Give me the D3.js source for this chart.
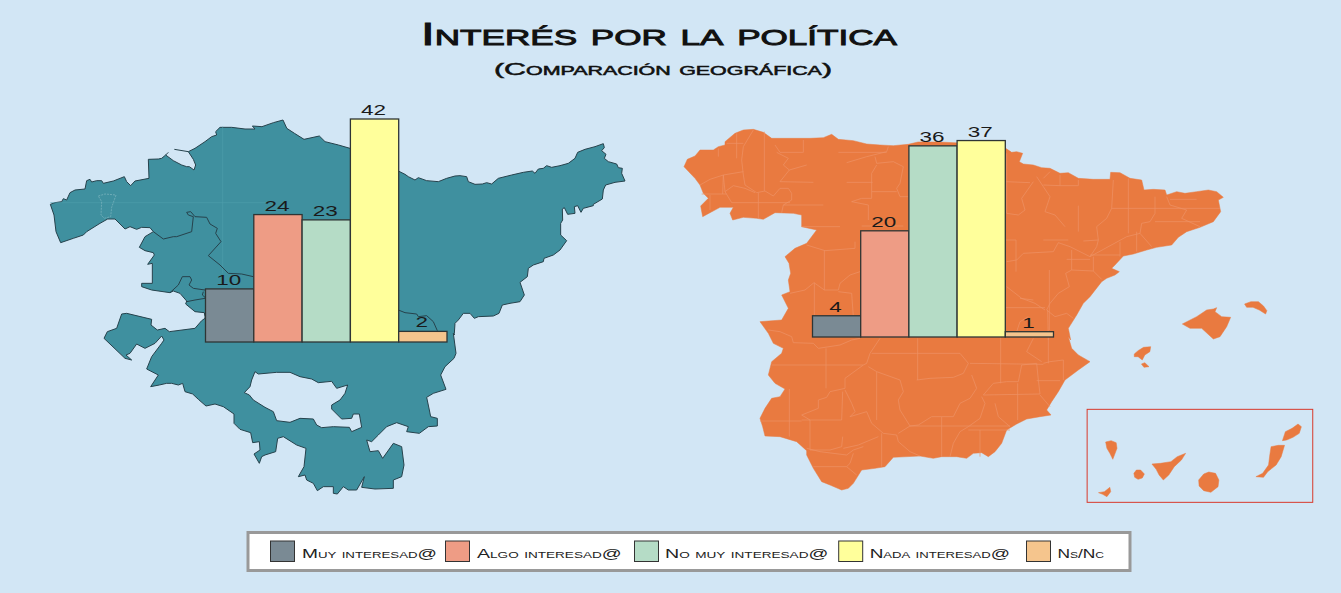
<!DOCTYPE html>
<html><head><meta charset="utf-8">
<script src="https://cdn.jsdelivr.net/npm/d3@7/dist/d3.min.js"></script>
<style>html,body{margin:0;padding:0;background:#d2e6f5}svg{display:block}</style>
</head><body><svg id="c" width="1341" height="593"></svg>
<script>
const categories = ["Muy interesad@","Algo interesad@","No muy interesad@","Nada interesad@","Ns/Nc"];
const valuesBasque = [10,24,23,42,2];
const valuesSpain = [4,20,36,37,1];
const barColors = ["#7a8a94","#ee9c85","#b5dcc6","#ffff9b","#f5c58d"];

// Map outlines: each list is in the units of one survey sheet of the map
const basqueNorthWest = [[16,253],[30,248],[50,245],[55,236],[65,240],[75,218],[90,210],[120,207],[125,182],[135,178],[140,186],[155,182],[170,182],[175,190],[205,183],[238,170],[245,185],[257,197],[270,183],[312,175],[310,118],[340,117],[350,115],[362,105],[385,122],[410,135],[425,140],[433,140],[447,150],[452,135],[445,118],[430,95],[450,85],[480,65],[500,50],[515,45],[512,35],[525,22],[560,22],[600,27],[630,27]];
const basqueNorthMid = [[555,78],[580,80],[610,68],[635,60],[645,85],[665,100],[690,118],[730,108],[745,125],[780,135],[810,145]];
const basqueEast = [[10,108],[30,118],[40,125],[60,135],[70,128],[95,137],[130,140],[155,130],[180,123],[195,122],[215,125],[220,140],[240,148],[262,147],[275,143],[290,147],[310,130],[350,120],[385,112],[412,108],[420,115],[430,102],[445,100],[455,92],[470,97],[495,92],[520,85],[540,70],[548,52],[570,43],[600,35],[625,26],[628,38],[620,47],[633,58],[628,70],[640,80],[665,87],[670,98],[682,100],[680,115],[690,138],[660,142],[632,150],[625,165],[622,192],[595,208],[595,212],[565,220],[558,232],[548,212],[538,215],[540,235],[518,238],[508,218],[502,222],[503,255],[497,265],[497,300],[515,317],[495,345],[475,360],[447,370],[445,380],[415,390],[400,400],[397,425],[375,442],[388,480],[375,500],[345,505],[322,510],[312,535],[295,543],[250,545],[238,550],[225,535],[205,535],[190,555],[180,565],[178,595],[178,600]];
const basqueSouth = [[1060,70],[1068,130],[1062,145],[1035,170],[1022,195],[1038,238],[1000,250],[980,262],[988,300],[992,320],[1012,325],[1012,348],[985,350],[958,370],[920,365],[925,350],[890,338],[860,350],[835,375],[815,395],[800,390],[810,425],[835,422],[848,445],[880,400],[905,410],[912,465],[905,500],[880,510],[880,535],[825,537],[785,532],[793,500],[770,540],[745,540],[730,530],[712,552],[700,550],[700,530],[670,530],[652,542],[640,520],[620,510],[615,495],[595,500],[612,470],[618,415],[590,405],[550,380],[533,385],[527,425],[495,435],[485,440],[478,460],[462,432],[480,420],[478,395],[458,398],[452,368],[420,358],[402,340],[402,312],[370,290],[345,282],[318,288],[295,268],[278,252],[255,245],[248,220],[235,225],[215,220],[200,220],[178,225],[152,230],[175,195],[140,177],[155,140],[185,100],[192,90],[185,78],[165,100],[135,115],[110,102],[90,130],[78,135],[95,150],[75,145],[12,85],[22,65],[50,55],[65,12],[80,10],[155,28],[153,45],[172,60],[195,55],[208,65],[285,55],[305,32],[315,25]];
const basqueWest = [[480,590],[478,578],[450,575],[422,552],[425,543],[405,520],[385,513],[375,518],[320,510],[290,500],[290,490],[322,490],[322,430],[308,433],[328,405],[325,398],[300,392],[283,382],[300,350],[325,335],[315,323],[290,322],[275,328],[255,320],[240,327],[210,297],[188,297],[165,310],[125,335],[115,345],[85,355],[47,368],[33,335],[27,285]];
const basqueHole = [[465,185],[475,192],[530,187],[570,187],[600,200],[635,207],[655,218],[695,214],[710,235],[743,225],[735,250],[720,270],[695,285],[695,297],[725,327],[755,325],[760,312],[778,312],[785,352],[755,365],[748,352],[700,350],[665,353],[650,345],[640,327],[600,325],[570,337],[530,332],[520,305],[495,292],[460,270],[448,255],[433,248],[450,230],[455,210]];
const basqueInnerWest = [
 [[325,335],[355,357],[385,350],[395,350],[440,335],[445,290],[430,285],[425,277],[437,275],[450,290],[485,292],[495,312],[517,325],[512,340],[528,365],[490,407],[525,435],[550,460],[590,462],[625,470]],
 [[375,518],[400,495],[412,470],[435,470],[440,480],[432,495],[445,505],[480,510]],
 [[475,515],[472,525],[480,532]],
 [[425,545],[450,540],[480,535]],
 [[388,88],[430,95]],
 [[362,105],[370,97]]
];
const basqueInnerEast = [[10,525],[30,533],[65,537],[70,545],[95,542],[115,560],[127,587]];
const basqueEnclave = [[160,228],[180,222],[213,225],[200,262],[197,290],[178,295],[168,285],[170,245]];
const basqueFaint = [[[16,248],[670,248]],[[533,20],[533,460]]];

const spainNorthWest = [[12,140],[22,118],[45,108],[60,90],[100,90],[115,80],[135,75],[135,65],[165,40],[190,30],[220,28],[250,37],[275,55],[330,55],[390,55],[430,53],[455,43],[475,58],[520,62],[560,72],[600,75],[640,77],[685,73],[714,66],[777,66],[840,69]];
const spainNorthEast = [[17,25],[35,37],[50,35],[68,40],[58,65],[70,72],[100,75],[125,83],[150,85],[180,100],[205,98],[235,115],[280,118],[330,118],[332,97],[360,98],[390,115],[425,120],[432,150],[460,148],[495,150],[500,165],[530,155],[555,160],[590,155],[625,150],[650,155],[670,172],[655,180],[662,215],[640,245],[600,262],[560,275],[535,292],[515,315],[470,322],[440,330],[400,342],[370,348],[345,375],[335,385],[358,395],[345,405],[320,415],[305,425],[270,470],[250,490],[230,525],[205,565],[212,600]];
const spainSouth = [[955,50],[965,85],[985,105],[1020,125],[985,150],[945,180],[925,215],[905,245],[890,270],[903,285],[870,290],[830,297],[800,312],[770,330],[755,370],[735,395],[715,410],[695,398],[670,400],[650,415],[620,410],[575,410],[550,415],[510,408],[430,412],[405,440],[375,445],[335,450],[310,490],[295,505],[275,510],[240,495],[215,485],[190,445],[170,405],[170,392],[140,365],[90,350],[45,348],[38,320],[30,295],[45,265],[65,235],[90,230],[105,207],[75,190],[55,165],[65,125],[95,100],[100,85],[70,70],[55,40],[30,5]];
const spainWest = [[305,600],[325,565],[305,525],[330,515],[325,480],[332,460],[327,430],[315,410],[345,385],[380,370],[410,330],[365,320],[365,285],[340,280],[285,278],[250,298],[230,295],[190,292],[158,300],[150,280],[160,262],[120,262],[68,290],[62,258],[85,235],[70,220],[60,195],[45,175]];
const mallorca = [[547,552],[590,530],[620,510],[640,507],[650,503],[645,515],[665,530],[692,532],[680,560],[660,590],[640,597],[605,565],[570,565]];
const spainIslands = [
 [[1365,612],[1380,605],[1398,605],[1410,618],[1418,632],[1415,642],[1400,630],[1385,622],[1370,622]],
 [[1103,762],[1112,752],[1125,742],[1142,740],[1140,755],[1128,765],[1122,780],[1112,770],[1103,770]],
 [[1120,792],[1128,788],[1138,800],[1126,802]],
 [[1035,1026],[1048,1022],[1060,1028],[1062,1045],[1052,1078],[1045,1060],[1038,1045]],
 [[1102,1120],[1108,1110],[1118,1110],[1127,1122],[1122,1134],[1112,1138],[1104,1132]],
 [[1145,1092],[1165,1090],[1190,1085],[1205,1070],[1225,1060],[1215,1080],[1198,1100],[1185,1125],[1172,1140],[1162,1125],[1155,1108]],
 [[1268,1122],[1280,1116],[1296,1120],[1304,1140],[1302,1160],[1285,1177],[1268,1172],[1257,1158],[1256,1140]],
 [[1428,1040],[1445,1036],[1460,1036],[1452,1070],[1440,1095],[1420,1115],[1410,1132],[1392,1130],[1408,1120],[1422,1095],[1425,1065]],
 [[1462,995],[1478,985],[1492,972],[1500,980],[1495,1000],[1480,1012],[1465,1020],[1455,1022]],
 [[1018,1178],[1032,1175],[1045,1162],[1047,1175],[1038,1190],[1028,1183]]
];
const provincesNorthWest = [
 [[220,30],[190,80],[185,120],[190,165],[195,195],[230,218],[255,213],[280,228],[300,205],[325,205],[335,220],[335,240],[310,255],[305,278]],
 [[253,35],[253,213]],[[190,155],[130,165],[90,178],[60,195]],
 [[130,165],[135,215],[160,197],[195,205],[225,218]],
 [[135,215],[155,248],[330,248]],[[235,218],[235,295]],[[90,225],[90,270]],[[65,222],[140,222]],[[130,165],[128,222]],
 [[140,70],[190,70]],[[170,40],[170,115]],[[115,85],[115,110]],
 [[285,75],[300,97],[370,97],[370,60]],
 [[290,97],[325,115],[310,135],[328,150],[300,185],[400,187]],[[328,150],[380,135]],
 [[500,128],[560,110],[620,95],[625,80]],[[475,97],[620,97]],
 [[585,110],[590,130],[640,125],[670,140],[660,190],[650,205],[660,230],[685,230]],
 [[500,187],[578,187]],
 [[590,135],[575,160],[575,235],[545,235],[515,245],[565,255],[565,300]],
 [[575,215],[650,215]],[[310,255],[430,255]],[[365,320],[480,320]],[[545,318],[670,318]],
 [[380,375],[435,392],[525,385],[525,365]],
 [[433,392],[433,510],[402,488],[375,510],[330,520]],[[403,488],[403,600]],
 [[433,510],[475,510],[480,490],[510,465],[540,455]],[[475,515],[515,520],[520,590]]
];
const provincesNorthEast = [
 [[20,40],[20,220]],[[18,125],[90,128]],[[130,135],[180,137],[235,137],[235,120]],[[180,105],[180,137]],
 [[110,110],[130,140],[150,170],[135,215],[165,225],[195,260]],
 [[100,125],[65,175],[75,210],[55,225],[20,220]],[[235,197],[235,275]],[[150,95],[130,115]],
 [[340,120],[335,205],[320,235],[290,260],[295,300],[250,303]],[[335,205],[660,205]],[[385,115],[385,280]],
 [[465,170],[465,220],[450,245],[425,250],[420,280],[455,320]],
 [[500,170],[510,195],[560,210],[545,235],[600,260]],[[465,245],[600,245]],[[510,178],[590,178]],
 [[295,300],[290,320],[270,350],[380,290],[420,280]],[[360,305],[360,350]],[[410,275],[410,335]],[[270,345],[360,345]],
 [[130,300],[205,300]],[[18,300],[48,300],[48,395]],
 [[20,365],[50,360],[70,340],[160,335],[175,308],[210,320],[270,350]],[[200,358],[270,358]],
 [[215,330],[215,390],[280,393],[280,350]],[[280,393],[305,418]],
 [[215,390],[197,400],[208,440],[175,460],[150,490],[140,510],[165,530],[200,520],[220,535]],
 [[148,390],[148,570]],[[20,440],[65,475],[105,490],[135,510]],[[18,503],[135,503]],[[60,475],[100,480]],
 [[143,510],[145,600]],[[85,530],[60,545],[50,575]]
];
const provincesSouth = [
 [[55,30],[90,35],[125,50],[130,68],[190,70],[205,85],[270,75],[305,60],[330,55]],
 [[390,55],[360,100],[350,130],[340,135],[285,175],[285,205],[240,215],[230,232],[205,240],[205,265],[155,285],[180,300],[180,390]],
 [[228,85],[228,205]],[[65,135],[340,135]],
 [[365,100],[500,100],[630,100],[655,130],[640,160],[610,172],[540,175],[500,180]],[[503,55],[503,180]],
 [[355,140],[380,155],[450,180],[460,215],[445,240],[450,270],[480,318]],[[380,155],[380,300]],
 [[285,210],[305,250],[315,275],[300,290],[350,275],[365,310],[400,340],[440,345],[445,365],[480,395],[510,408]],
 [[155,300],[275,300],[278,215]],[[118,207],[118,350]],[[30,303],[155,303]],
 [[180,390],[240,390],[275,380],[278,350]],[[280,385],[325,375],[385,350]],
 [[170,385],[210,395],[290,405],[310,390],[340,380]],
 [[190,440],[290,440],[300,430],[310,400]],[[290,440],[320,465]],[[395,340],[395,440]],
 [[445,340],[480,318],[505,315],[545,290],[575,290],[610,290],[630,250],[660,235],[680,205],[665,165]],
 [[480,318],[780,318]],[[575,290],[575,410]],
 [[600,410],[610,370],[630,335],[655,320],[690,295],[705,250],[695,230]],
 [[655,330],[780,330]],[[690,330],[690,410]],
 [[700,225],[870,222],[865,180],[860,130],[815,135],[805,185],[770,185],[730,190],[700,225]],
 [[803,190],[803,300]],[[660,130],[880,133]],[[752,50],[752,190]],[[870,225],[900,260]],[[860,182],[930,182]],
 [[880,130],[900,125],[940,120]],[[895,50],[895,130]],[[940,120],[940,180]],[[850,55],[830,95],[875,125]],
 [[735,250],[745,290],[780,320]]
];
const canaryBox = [[991,928],[1527,1207]];

const svg = d3.select("#c");
svg.append("rect").attr("width",1341).attr("height",593).attr("fill","#d2e6f5");

// one projection per sheet
function sheet(x0,y0,kx=3,ky=3){
  const sx=d3.scaleLinear().domain([0,kx]).range([x0,x0+1]);
  const sy=d3.scaleLinear().domain([0,ky]).range([y0,y0+1]);
  return pts=>pts.map(p=>[sx(p[0]),sy(p[1])]);
}
const sBW=sheet(45,120), sBM=sheet(40,100,1568/600,3), sBE=sheet(395,135), sBS=sheet(100,310);
const sSW=sheet(680,120), sSE=sheet(1000,140), sSS=sheet(750,320), sSO=sheet(670,100,1568/660,3);
const line=d3.line();

const basqueOuter=[...sBW(basqueNorthWest),...sBM(basqueNorthMid),...sBE(basqueEast),...sBS(basqueSouth),...sBW(basqueWest)];
const spainMain=[...sSW(spainNorthWest),...sSE(spainNorthEast),...sSS(spainSouth),...sSW(spainWest)];

// Basque map
const BF="#3f909f", BS="#26424c";
svg.append("path").attr("d",line(basqueOuter)+"Z"+line(sBS(basqueHole))+"Z")
  .attr("fill",BF).attr("fill-rule","evenodd").attr("stroke",BS).attr("stroke-width",1).attr("stroke-linejoin","round");
svg.append("g").selectAll("path").data(basqueFaint.map(sBW)).join("path").attr("d",line)
  .attr("fill","none").attr("stroke","#4f9dac").attr("stroke-width",.6);
svg.append("g").selectAll("path").data([...basqueInnerWest.map(sBW),sBE(basqueInnerEast)]).join("path").attr("d",line)
  .attr("fill","none").attr("stroke",BS).attr("stroke-width",1);
svg.append("path").attr("d",line(sBW(basqueEnclave))+"Z").attr("fill","none")
  .attr("stroke","#7fb6c0").attr("stroke-width",.7).attr("stroke-dasharray","2 1");

// Spain map
const allLand=[spainMain,sSE(mallorca),...spainIslands.map(sSO)];
svg.append("path").attr("d",allLand.map(p=>line(p)+"Z").join(""))
  .attr("fill","#e97a40").attr("stroke","#e97a40").attr("stroke-width",.5);
svg.append("g").selectAll("path").data([...provincesNorthWest.map(sSW),...provincesNorthEast.map(sSE),...provincesSouth.map(sSS)]).join("path").attr("d",line)
  .attr("fill","none").attr("stroke","#ee9266").attr("stroke-width",.7);
const cb=sSO(canaryBox);
svg.append("rect").attr("x",cb[0][0]).attr("y",cb[0][1]).attr("width",cb[1][0]-cb[0][0]).attr("height",cb[1][1]-cb[0][1])
  .attr("fill","none").attr("stroke","#d8392b").attr("stroke-width",1);

// bars
const color = d3.scaleOrdinal().domain(categories).range(barColors);
function bars(values,x0,x1,base){
  const x = d3.scaleBand().domain(categories).range([x0,x1]).padding(0);
  const y = d3.scaleLinear().domain([0,42]).range([base,base-223]);
  const g = svg.append("g");
  g.selectAll("rect").data(values).join("rect")
    .attr("x",(d,i)=>x(categories[i])).attr("y",d=>y(d))
    .attr("width",x.bandwidth()).attr("height",d=>base-y(d))
    .attr("fill",(d,i)=>color(categories[i])).attr("stroke","#2e3535").attr("stroke-width",1.3);
  g.selectAll("text").data(values).join("text")
    .attr("transform",(d,i)=>`translate(${x(categories[i])+x.bandwidth()/2-1},${y(d)-4}) scale(1.45,1)`)
    .attr("text-anchor","middle").attr("font-family","'Liberation Sans'").attr("font-size",15.5).attr("fill","#1a1a1a")
    .text(d=>d);
}
bars(valuesBasque,205.5,447,342);
bars(valuesSpain,812.5,1053.5,337);

// titles
function fitText(txt,x0,x1,base,size,sw){
  svg.append("text").attr("x",x0).attr("y",base).attr("font-family","'Liberation Sans'")
    .attr("font-size",size).style("font-variant","small-caps")
    .attr("fill","#111").attr("stroke","#111").attr("stroke-width",sw)
    .attr("textLength",x1-x0).attr("lengthAdjust","spacingAndGlyphs").text(txt);
}
fitText("Interés por la política",421,897,45,31,.9);
fitText("(Comparación geográfica)",494,832,75,17,.5);

// legend
svg.append("rect").attr("x",248).attr("y",532.5).attr("width",882).attr("height",38)
  .attr("fill","#fff").attr("stroke","#999").attr("stroke-width",3);
const legendSwatchX = [270.5,445.5,634.5,838.7,1026.5];
const legendTextX = [[302,437],[477,621.7],[665,828.4],[869.7,1010],[1057.4,1104]];
const lg = svg.append("g");
lg.selectAll("rect").data(categories).join("rect")
  .attr("x",(d,i)=>legendSwatchX[i]).attr("y",541).attr("width",24).attr("height",20.5)
  .attr("fill",d=>color(d)).attr("stroke","#333").attr("stroke-width",1);
lg.selectAll("text").data(categories).join("text")
  .attr("x",(d,i)=>legendTextX[i][0]).attr("y",558)
  .attr("textLength",(d,i)=>legendTextX[i][1]-legendTextX[i][0]).attr("lengthAdjust","spacingAndGlyphs")
  .attr("font-family","'Liberation Sans'").attr("font-size",13).style("font-variant","small-caps").attr("fill","#222")
  .text(d=>d);
</script></body></html>
